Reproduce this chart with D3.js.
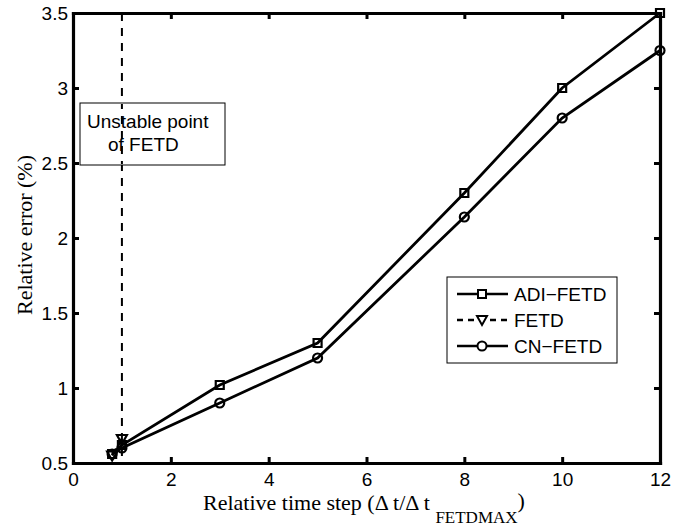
<!DOCTYPE html>
<html>
<head>
<meta charset="utf-8">
<script src="https://cdn.jsdelivr.net/npm/d3@7"></script>
<style>
  body { margin: 0; background: #fff; }
  text { fill: #000; }
</style>
</head>
<body>
<div id="chart"></div>
<script>
// chart data
let adiX = [0.8, 1, 3, 5, 8, 10, 12];
let adiY = [0.56, 0.62, 1.02, 1.3, 2.3, 3.0, 3.5];
let fetdX = [0.8, 1];
let fetdY = [0.55, 0.66];
let cnX = [0.8, 1, 3, 5, 8, 10, 12];
let cnY = [0.56, 0.6, 0.9, 1.2, 2.14, 2.8, 3.25];
let xTicks = [0, 2, 4, 6, 8, 10, 12];
let yTicks = [0.5, 1, 1.5, 2, 2.5, 3, 3.5];
let unstableX = 1;
let legendNames = ["ADI-FETD", "FETD", "CN-FETD"];

let width = 687, height = 529;
let pLeft = 73, pTop = 13, pRight = 660, pBottom = 463;
let sans = "Liberation Sans, Arial, sans-serif";
let serif = "Liberation Serif, Times New Roman, serif";

let svg = d3.select("#chart").append("svg")
    .attr("width", width)
    .attr("height", height);

let xScale = d3.scaleLinear().domain([0, 12]).range([pLeft, pRight]);
let yScale = d3.scaleLinear().domain([0.5, 3.5]).range([pBottom, pTop]);

// vertical dashed line at unstable point
svg.append("line")
    .attr("x1", xScale(unstableX)).attr("x2", xScale(unstableX))
    .attr("y1", pTop).attr("y2", pBottom)
    .attr("stroke", "#000").attr("stroke-width", 2)
    .attr("stroke-dasharray", "8,7");

// annotation box
let note = svg.append("g");
note.append("rect")
    .attr("x", 80).attr("y", 103).attr("width", 145).attr("height", 62)
    .attr("fill", "#fff").attr("stroke", "#000").attr("stroke-width", 1);
note.append("line")
    .attr("x1", xScale(unstableX)).attr("x2", xScale(unstableX))
    .attr("y1", 104).attr("y2", 164)
    .attr("stroke", "#000").attr("stroke-width", 2)
    .attr("stroke-dasharray", "8,7").attr("stroke-dashoffset", 3);
note.append("text").attr("x", 87).attr("y", 128)
    .style("font-family", sans).style("font-size", "19px")
    .text("Unstable point");
note.append("text").attr("x", 108).attr("y", 151)
    .style("font-family", sans).style("font-size", "19px")
    .text("of FETD");

let line = d3.line().x(d => xScale(d[0])).y(d => yScale(d[1]));

function markerPath(marker) {
    if (marker == "square") return "M-4,-4H4V4H-4Z";
    if (marker == "triangle") return "M-5,-4H5L0,5Z";
    return d3.arc()({innerRadius: 0, outerRadius: 4.5, startAngle: 0, endAngle: 2 * Math.PI});
}

function drawSeries(xs, ys, marker, dash) {
    let pts = xs.map((x, i) => [x, ys[i]]);
    let g = svg.append("g");
    g.append("path").datum(pts)
        .attr("d", line)
        .attr("fill", "none").attr("stroke", "#000").attr("stroke-width", 2.8)
        .attr("stroke-dasharray", dash || null);
    g.selectAll("path.m").data(pts).enter().append("path")
        .attr("class", "m")
        .attr("transform", d => "translate(" + xScale(d[0]) + "," + yScale(d[1]) + ")")
        .attr("d", markerPath(marker))
        .attr("fill", "none").attr("stroke", "#000").attr("stroke-width", 2.2);
}

drawSeries(adiX, adiY, "square");
drawSeries(fetdX, fetdY, "triangle", "8,5");
drawSeries(cnX, cnY, "circle");

// frame and axes
let xAxis = d3.axisBottom(xScale).tickValues(xTicks).tickSizeInner(-6).tickSizeOuter(0).tickPadding(10).tickFormat(d3.format("d"));
let yAxis = d3.axisLeft(yScale).tickValues(yTicks).tickSizeInner(-6).tickSizeOuter(0).tickPadding(5).tickFormat(d => d);
let xTop = d3.axisTop(xScale).tickValues(xTicks).tickSizeInner(-6).tickSizeOuter(0).tickFormat("");
let yRight = d3.axisRight(yScale).tickValues(yTicks).tickSizeInner(-6).tickSizeOuter(0).tickFormat("");

function styleAxis(g) {
    g.select(".domain").attr("stroke-width", 3.2).attr("stroke", "#000").attr("stroke-linecap", "square");
    g.selectAll(".tick line").attr("stroke-width", 3).attr("stroke", "#000");
    g.selectAll("text").style("font-family", sans).style("font-size", "19px").attr("fill", "#000");
}

svg.append("g").attr("transform", "translate(0," + pBottom + ")").call(xAxis).call(styleAxis);
svg.append("g").attr("transform", "translate(" + pLeft + ",0)").call(yAxis).call(styleAxis);
svg.append("g").attr("transform", "translate(0," + pTop + ")").call(xTop).call(styleAxis);
svg.append("g").attr("transform", "translate(" + pRight + ",0)").call(yRight).call(styleAxis);

// axis titles
let xt = svg.append("text").attr("x", 203).attr("y", 510)
    .style("font-family", serif).style("font-size", "22px");
xt.append("tspan").text("Relative time step (\u0394 t/\u0394 t ");
xt.append("tspan").attr("dy", 13).style("font-size", "17px").text("FETDMAX");
xt.append("tspan").attr("dy", -15).text(")");

svg.append("text")
    .attr("transform", "translate(32," + 235 + ") rotate(-90)")
    .attr("text-anchor", "middle")
    .style("font-family", serif).style("font-size", "22px")
    .text("Relative error (%)");

// legend
let legend = svg.append("g");
legend.append("rect")
    .attr("x", 447).attr("y", 277).attr("width", 170).attr("height", 86)
    .attr("fill", "#fff").attr("stroke", "#000").attr("stroke-width", 1);
let legendMarkers = ["square", "triangle", "circle"];
let legendDash = [null, "6,5", null];
legendNames.forEach((name, i) => {
    let y = 294 + i * 26;
    legend.append("line")
        .attr("x1", 457).attr("x2", 508).attr("y1", y).attr("y2", y)
        .attr("stroke", "#000").attr("stroke-width", 2.5)
        .attr("stroke-dasharray", legendDash[i]);
    legend.append("path")
        .attr("transform", "translate(482," + y + ")")
        .attr("d", markerPath(legendMarkers[i]))
        .attr("fill", "#fff").attr("stroke", "#000").attr("stroke-width", 2);
    legend.append("text").attr("x", 514).attr("y", y + 7)
        .style("font-family", sans).style("font-size", "19px")
        .text(name.replace("-", "\u2212"));
});
</script>
</body>
</html>
